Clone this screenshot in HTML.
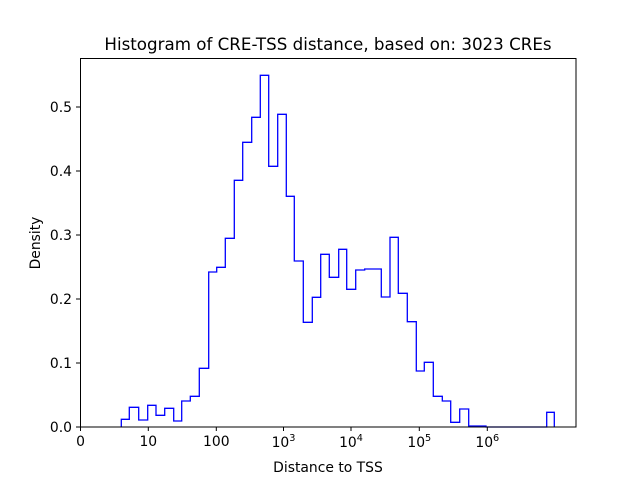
<!DOCTYPE html>
<html><head><meta charset="utf-8"><style>html,body{margin:0;padding:0;background:#fff}</style></head>
<body>
<svg width="640" height="480" xmlns="http://www.w3.org/2000/svg" font-family="DejaVu Sans, Liberation Sans, sans-serif">
<rect width="640" height="480" fill="#fff"/>
<polyline fill="none" stroke="#0000ff" stroke-width="1.3" stroke-linejoin="miter" points="
121.3,427 121.3,419.3 129.3,419.3 129.3,407.3 138.7,407.3 138.7,420 147.7,420 147.7,405.3 156,405.3 156,415.3 164.7,415.3 164.7,408.3 173.7,408.3 173.7,421 181.7,421 181.7,401 190.3,401 190.3,396.3 199.3,396.3 199.3,368.3 208.7,368.3 208.7,272 216.7,272 216.7,267.3 225.3,267.3 225.3,238.3 234.3,238.3 234.3,180.3 242.7,180.3 242.7,142.3 251.7,142.3 251.7,117.3 260.3,117.3 260.3,75.3 268.7,75.3 268.7,166.3 277.7,166.3 277.7,114.3 286.3,114.3 286.3,196.3 294.3,196.3 294.3,261 303.3,261 303.3,322.3 312.3,322.3 312.3,297.3 320.7,297.3 320.7,254.3 329.3,254.3 329.3,277.3 338.7,277.3 338.7,249.3 346.7,249.3 346.7,289.3 355.7,289.3 355.7,270 364.7,270 364.7,269 381.3,269 381.3,297 390,297 390,237.3 398.3,237.3 398.3,293.3 407.3,293.3 407.3,321.7 416.3,321.7 416.3,371 424.3,371 424.3,362.3 433.3,362.3 433.3,396.3 442.3,396.3 442.3,401 450.7,401 450.7,422.3 459.7,422.3 459.7,409 468.7,409 468.7,426 486,426 486,427 546.7,427 546.7,412.3 554.3,412.3 554.3,427"/>
<rect x="80.5" y="58.5" width="495.5" height="368.5" fill="none" stroke="#000" stroke-width="1"/>
<g stroke="#000" stroke-width="1">
<line x1="80.5" y1="427" x2="80.5" y2="431"/><line x1="148.3" y1="427" x2="148.3" y2="431"/><line x1="216.3" y1="427" x2="216.3" y2="431"/><line x1="283.5" y1="427" x2="283.5" y2="431"/><line x1="351" y1="427" x2="351" y2="431"/><line x1="419.3" y1="427" x2="419.3" y2="431"/><line x1="487.3" y1="427" x2="487.3" y2="431"/>
<line x1="76" y1="427" x2="80" y2="427"/><line x1="76" y1="363" x2="80" y2="363"/><line x1="76" y1="299" x2="80" y2="299"/><line x1="76" y1="235" x2="80" y2="235"/><line x1="76" y1="171" x2="80" y2="171"/><line x1="76" y1="107" x2="80" y2="107"/>
</g>
<g font-size="13.9" text-anchor="end">
<text x="72" y="432">0.0</text><text x="72" y="368">0.1</text><text x="72" y="304">0.2</text><text x="72" y="240">0.3</text><text x="72" y="176">0.4</text><text x="72" y="112">0.5</text>
</g>
<g font-size="13.9" text-anchor="middle">
<text x="80.5" y="446">0</text><text x="148.3" y="446">10</text><text x="216.3" y="446">100</text>
<text x="283.5" y="447">10<tspan font-size="9.7" dy="-6">3</tspan></text>
<text x="351" y="447">10<tspan font-size="9.7" dy="-6">4</tspan></text>
<text x="419.3" y="447">10<tspan font-size="9.7" dy="-6">5</tspan></text>
<text x="487.3" y="447">10<tspan font-size="9.7" dy="-6">6</tspan></text>
<text x="328" y="472">Distance to TSS</text>
<text x="328" y="50" font-size="16.7">Histogram of CRE-TSS distance, based on: 3023 CREs</text>
</g>
<text font-size="13.9" text-anchor="middle" transform="translate(40,243) rotate(-90)">Density</text>
</svg>
</body></html>
